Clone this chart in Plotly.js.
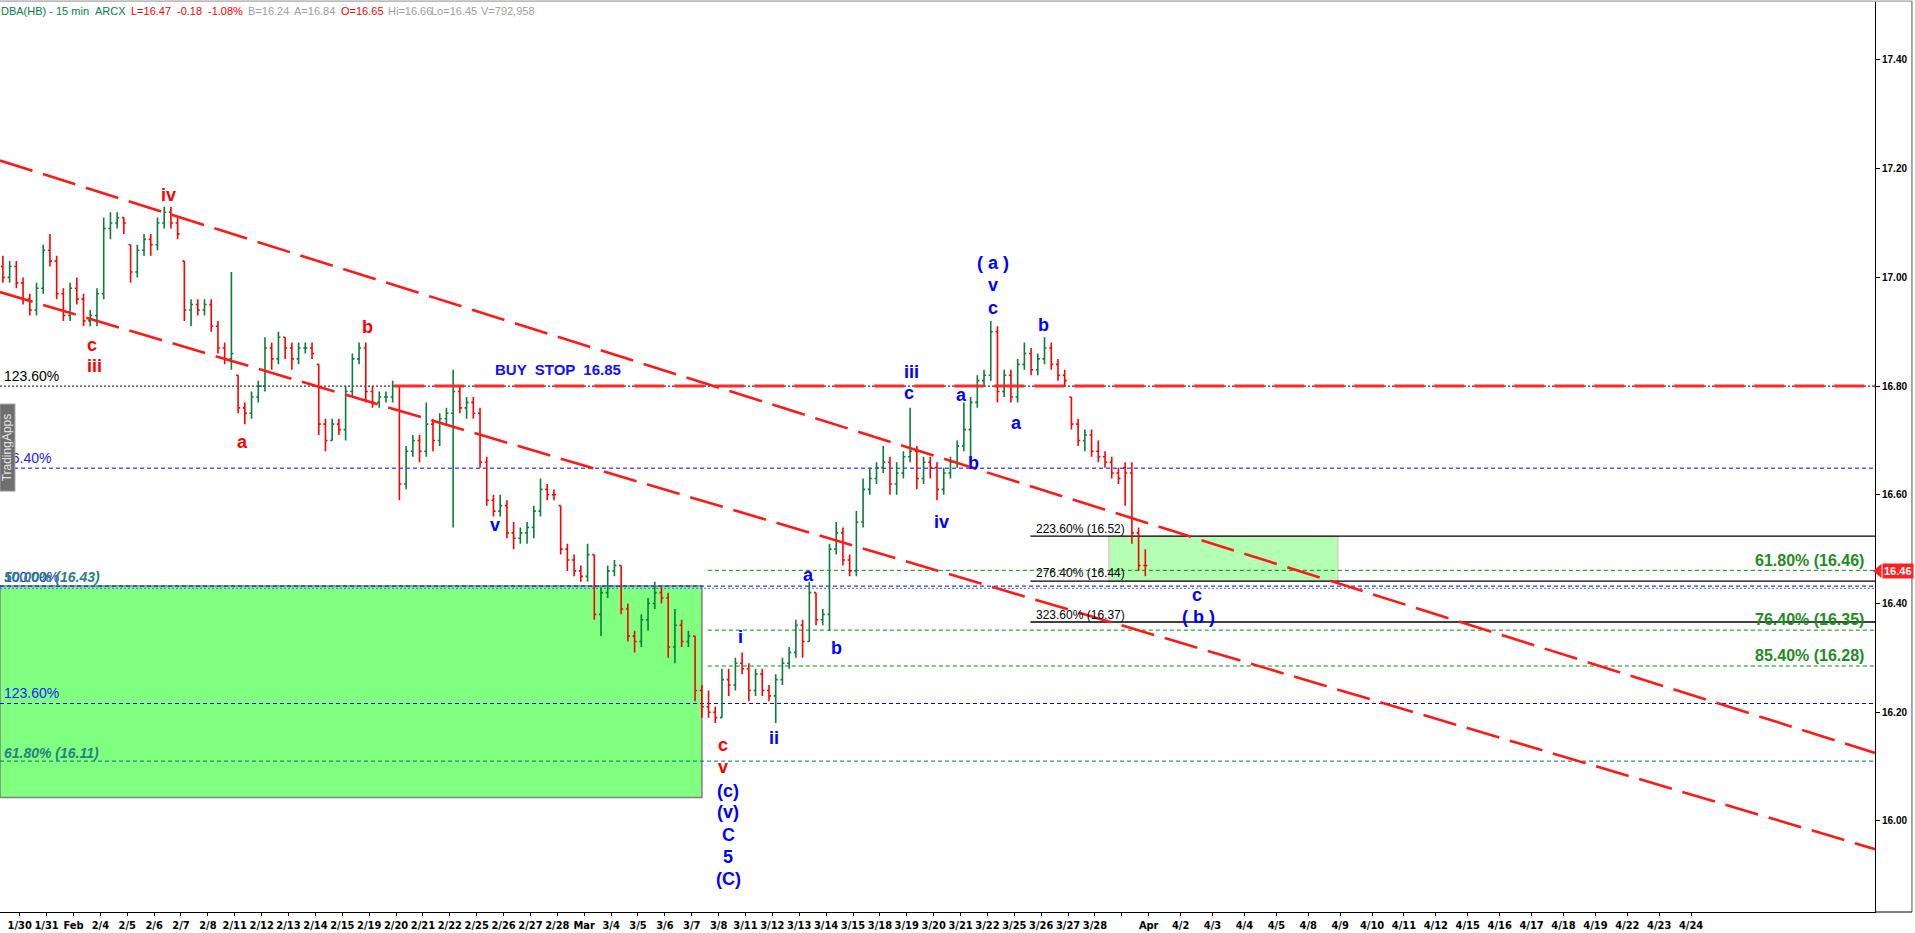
<!DOCTYPE html>
<html><head><meta charset="utf-8">
<script src="https://cdn.plot.ly/plotly-3.0.1.min.js"></script>
<style>html,body{margin:0;padding:0;background:#fff;overflow:hidden}#chart{width:1915px;height:933px}</style>
</head><body><div id="chart"></div>
<script>
// ---------- DATA ----------
const histDayLabels = ['1/30','1/31','Feb','2/4','2/5','2/6','2/7','2/8','2/11','2/12','2/13','2/14','2/15','2/19','2/20','2/21','2/22','2/25','2/26','2/27','2/28','Mar','3/4','3/5','3/6','3/7','3/8','3/11','3/12','3/13','3/14','3/15','3/18','3/19','3/20','3/21','3/22','3/25','3/26','3/27','3/28',''];
const futureDayLabels = ['Apr','4/2','4/3','4/4','4/5','4/8','4/9','4/10','4/11','4/12','4/15','4/16','4/17','4/18','4/19','4/22','4/23','4/24'];

// 15-min bars summarised in quarter-day bars (O,H,L,C), first 3 from 1/29 tail
const opens = [
17.02,17.00,17.02,
16.99,16.96,16.94,16.98, 17.05,17.03,16.97,16.93, 16.98,16.96,16.92,16.93, 16.97,17.09,17.10,17.11,
17.06,17.01,17.05,17.07, 17.06,17.10,17.12,17.10, 17.03,16.94,16.95,16.94, 16.95,16.91,16.87,16.85,
16.82,16.76,16.75,16.78, 16.80,16.87,16.85,16.89, 16.87,16.85,16.87,16.87, 16.84,16.73,16.70,16.73,
16.72,16.79,16.85,16.87, 16.79,16.77,16.78,16.78, 16.80,16.62,16.68,16.70, 16.68,16.73,16.70,16.74,
16.75,16.79,16.76,16.77, 16.75,16.66,16.59,16.57, 16.58,16.53,16.52,16.53, 16.54,16.57,16.61,16.60,
16.58,16.50,16.48,16.46, 16.45,16.49,16.38,16.42, 16.46,16.47,16.39,16.34, 16.33,16.37,16.40,16.42,
16.41,16.32,16.36,16.33, 16.34,16.24,16.21,16.20, 16.19,16.26,16.25,16.29, 16.28,16.24,16.27,16.24,
16.23,16.26,16.29,16.31, 16.36,16.33,16.42,16.37, 16.38,16.50,16.53,16.48, 16.46,16.55,16.61,16.63,
16.65,16.66,16.62,16.64, 16.67,16.68,16.63,16.66, 16.65,16.61,16.64,16.66, 16.69,16.72,16.77,16.81,
16.82,16.90,16.79,16.82, 16.78,16.84,16.86,16.83, 16.85,16.87,16.84,16.82, 16.78,16.73,16.70,16.71,
16.68,16.67,16.66,16.64, 16.65,16.64,16.53,16.47];
const highs = [
17.04,17.03,17.03,
17.00,16.97,16.99,17.06, 17.08,17.04,16.98,16.99, 17.00,16.97,16.94,16.98, 17.11,17.12,17.12,17.11,
17.06,17.06,17.08,17.08, 17.11,17.13,17.13,17.11, 17.03,16.96,16.96,16.96, 16.96,16.92,16.88,17.01,
16.82,16.77,16.79,16.81, 16.89,16.88,16.90,16.89, 16.88,16.88,16.88,16.88, 16.84,16.74,16.74,16.74,
16.80,16.86,16.88,16.88, 16.80,16.79,16.79,16.81, 16.80,16.69,16.71,16.71, 16.77,16.74,16.75,16.76,
16.83,16.80,16.78,16.78, 16.76,16.67,16.60,16.60, 16.59,16.55,16.54,16.55, 16.58,16.63,16.62,16.61,
16.58,16.51,16.49,16.47, 16.51,16.49,16.43,16.47, 16.48,16.47,16.40,16.35, 16.38,16.41,16.44,16.43,
16.42,16.39,16.37,16.35, 16.34,16.25,16.24,16.21, 16.28,16.28,16.30,16.31, 16.29,16.28,16.28,16.25,
16.27,16.30,16.32,16.37, 16.37,16.44,16.42,16.39, 16.51,16.55,16.54,16.49, 16.57,16.63,16.65,16.66,
16.69,16.67,16.66,16.68, 16.76,16.69,16.67,16.67, 16.66,16.65,16.67,16.70, 16.77,16.78,16.82,16.83,
16.92,16.91,16.83,16.83, 16.85,16.88,16.87,16.86, 16.89,16.88,16.85,16.83, 16.78,16.74,16.72,16.72,
16.70,16.68,16.67,16.65, 16.66,16.66,16.54,16.50];
const lows = [
16.99,16.99,16.98,
16.95,16.93,16.93,16.97, 17.02,16.96,16.92,16.92, 16.95,16.91,16.91,16.91, 16.96,17.07,17.09,17.08,
16.99,17.00,17.04,17.04, 17.05,17.09,17.09,17.07, 16.92,16.91,16.93,16.93, 16.90,16.86,16.84,16.83,
16.75,16.73,16.74,16.77, 16.79,16.83,16.84,16.85, 16.83,16.84,16.86,16.85, 16.71,16.68,16.70,16.71,
16.70,16.78,16.84,16.77, 16.76,16.76,16.77,16.77, 16.59,16.61,16.67,16.66, 16.67,16.68,16.69,16.73,
16.54,16.75,16.74,16.74, 16.65,16.58,16.56,16.56, 16.52,16.50,16.51,16.51, 16.52,16.56,16.59,16.59,
16.49,16.46,16.45,16.44, 16.44,16.37,16.34,16.41, 16.45,16.38,16.33,16.31, 16.32,16.35,16.39,16.40,
16.30,16.29,16.32,16.32, 16.22,16.19,16.19,16.18, 16.19,16.23,16.24,16.27, 16.22,16.23,16.23,16.22,
16.18,16.25,16.28,16.30, 16.30,16.33,16.36,16.36, 16.35,16.49,16.47,16.45, 16.45,16.54,16.60,16.62,
16.64,16.60,16.60,16.63, 16.66,16.61,16.62,16.63, 16.59,16.60,16.63,16.65, 16.68,16.66,16.76,16.80,
16.81,16.77,16.78,16.77, 16.77,16.83,16.82,16.82, 16.84,16.83,16.81,16.80, 16.72,16.69,16.68,16.67,
16.66,16.65,16.63,16.62, 16.58,16.51,16.46,16.45];
const closes = [
17.00,17.02,16.99,
16.96,16.94,16.98,17.05, 17.03,16.97,16.93,16.98, 16.96,16.92,16.93,16.97, 17.09,17.10,17.11,17.10,
17.01,17.05,17.07,17.06, 17.10,17.12,17.10,17.08, 16.94,16.95,16.94,16.95, 16.91,16.87,16.85,16.86,
16.76,16.75,16.78,16.80, 16.87,16.85,16.89,16.87, 16.85,16.87,16.87,16.86, 16.73,16.70,16.73,16.72,
16.79,16.85,16.87,16.79, 16.77,16.78,16.78,16.80, 16.62,16.68,16.70,16.68, 16.73,16.70,16.74,16.75,
16.79,16.76,16.77,16.75, 16.66,16.59,16.57,16.58, 16.53,16.52,16.53,16.54, 16.57,16.61,16.60,16.60,
16.50,16.48,16.46,16.45, 16.49,16.38,16.42,16.46, 16.47,16.39,16.34,16.33, 16.37,16.40,16.42,16.41,
16.32,16.36,16.33,16.34, 16.24,16.21,16.20,16.19, 16.26,16.25,16.29,16.28, 16.24,16.27,16.24,16.23,
16.26,16.29,16.31,16.36, 16.33,16.42,16.37,16.38, 16.50,16.53,16.48,16.46, 16.55,16.61,16.63,16.65,
16.66,16.62,16.64,16.67, 16.68,16.63,16.66,16.65, 16.61,16.64,16.66,16.69, 16.72,16.77,16.81,16.82,
16.90,16.79,16.82,16.78, 16.84,16.86,16.83,16.85, 16.87,16.84,16.82,16.81, 16.73,16.70,16.71,16.68,
16.67,16.66,16.64,16.63, 16.64,16.53,16.47,16.47];

// trend channel anchors (day units, price)
const channelUpperX = [-0.733, 69.02], channelUpperY = [17.215, 16.125];
const channelLowerX = [-0.733, 69.02], channelLowerY = [16.973, 15.948];
const buyStopPrice = 16.80, buyStopStartDay = 13.93;

// retracement / extension levels
const fullLevels = [16.80, 16.649, 16.432, 16.216, 16.110];
const greenLevels = [16.461, 16.351, 16.285];
const blackLevels = [16.524, 16.441, 16.366];
const leftZone = {x0:-0.733, x1:25.38, y0:16.043, y1:16.432};
const rightZone = {x0:40.52, x1:49.04, y0:16.441, y1:16.524};
const lastPrice = 16.46;

// ---------- BUILD ----------
const barX = opens.map((_, i) => -0.625 + 0.25 * i);
const tickVals = histDayLabels.map((_, i) => i).concat(futureDayLabels.map((_, k) => 42 + 1.187 * k));
const tickText = histDayLabels.concat(futureDayLabels);

const trace = {
  type: 'ohlc', x: barX, open: opens, high: highs, low: lows, close: closes,
  increasing: {line: {color: '#0b7d3b', width: 1.6}},
  decreasing: {line: {color: '#ff0000', width: 1.6}},
  tickwidth: 0.3, hoverinfo: 'skip', showlegend: false
};

const X0 = -0.733, X1 = 69.02;
const shapes = [];
// zones
shapes.push({type:'rect', xref:'x', yref:'y', x0:leftZone.x0, x1:leftZone.x1, y0:leftZone.y0, y1:leftZone.y1, fillcolor:'#80ff80', line:{color:'#808080', width:1.5}, layer:'below'});
shapes.push({type:'rect', xref:'x', yref:'y', x0:rightZone.x0, x1:rightZone.x1, y0:rightZone.y0, y1:rightZone.y1, fillcolor:'#b3ffb3', line:{color:'#f0b0b0', width:1}, layer:'below'});
// full-width levels
const fullStyles = [
  {color:'#000000', dash:'2px,2px'}, {color:'#0000ff', dash:'4px,3px'}, {color:'#0000ff', dash:'4px,3px'},
  {color:'#0000ff', dash:'4px,3px'}, {color:'#007a6a', dash:'4px,3px'}];
fullLevels.forEach((p, i) => shapes.push({type:'line', xref:'x', yref:'y', x0:X0, x1:X1, y0:p, y1:p, line:{color:fullStyles[i].color, width:1, dash:fullStyles[i].dash}, layer:'below'}));
shapes.push({type:'line', xref:'x', yref:'y', x0:X0, x1:X1, y0:16.428, y1:16.428, line:{color:'#4060ff', width:1, dash:'2px,2px'}, layer:'below'});
greenLevels.forEach(p => shapes.push({type:'line', xref:'x', yref:'y', x0:25.6, x1:X1, y0:p, y1:p, line:{color:'#0a8a0a', width:1, dash:'4px,3px'}, layer:'below'}));
blackLevels.forEach(p => shapes.push({type:'line', xref:'x', yref:'y', x0:37.6, x1:X1, y0:p, y1:p, line:{color:'#000000', width:1.3}, layer:'below'}));
// channel + buy stop
shapes.push({type:'line', xref:'x', yref:'y', x0:channelUpperX[0], x1:channelUpperX[1], y0:channelUpperY[0], y1:channelUpperY[1], line:{color:'#ff1a1a', width:2.6, dash:'34px,11px'}});
shapes.push({type:'line', xref:'x', yref:'y', x0:channelLowerX[0], x1:channelLowerX[1], y0:channelLowerY[0], y1:channelLowerY[1], line:{color:'#ff1a1a', width:2.6, dash:'34px,11px'}});
shapes.push({type:'line', xref:'x', yref:'y', x0:buyStopStartDay, x1:X1, y0:buyStopPrice, y1:buyStopPrice, line:{color:'#ff2a2a', width:3, dash:'30px,10px'}});
// frame
shapes.push({type:'line', xref:'paper', yref:'paper', x0:0, x1:1.0197, y0:1.001, y1:1.001, line:{color:'#8a8a8a', width:1}});
shapes.push({type:'line', xref:'paper', yref:'paper', x0:1.0197, x1:1.0197, y0:0, y1:1.001, line:{color:'#555', width:1}});
shapes.push({type:'line', xref:'paper', yref:'paper', x0:1, x1:1.0197, y0:0, y1:0, line:{color:'#000', width:1}});
// price tag pointer
shapes.push({type:'path', xref:'paper', yref:'y', path:'M 0.9989,16.46 L 1.0035,16.473 L 1.0035,16.447 Z', fillcolor:'#ff2020', line:{color:'#ff2020', width:0}});

const ann = [];
const F = 'Liberation Sans, Arial, sans-serif';
// header
[[0,'DBA(HB) - 15 min','#00804a'],[94,'ARCX','#00804a'],[130,'L=16.47','#ff0000'],[176,'-0.18','#ff0000'],[207,'-1.08%','#ff0000'],
 [247,'B=16.24','#a0a0a0'],[293,'A=16.84','#a0a0a0'],[340,'O=16.65','#ff0000'],[387,'Hi=16.66','#a0a0a0'],[430,'Lo=16.45','#a0a0a0'],[480,'V=792,958','#a0a0a0']]
 .forEach(h => ann.push({xref:'paper', yref:'paper', x:h[0]/1875, y:0.9901, xanchor:'left', yanchor:'middle', text:h[1], showarrow:false, borderpad:0,
   font:{family:F, size:11, color:h[2]}}));
// left labels
const leftLabels = [
  ['123.60%',16.819,'#000000','normal','normal'], ['76.40%',16.668,'#2020ff','normal','normal'],
  ['100.00%',16.449,'#2020ff','normal','normal'], ['50.00% (16.43)',16.449,'#2a8080','bold','italic'],
  ['123.60%',16.235,'#2020ff','normal','normal'], ['61.80% (16.11)',16.125,'#2a8080','bold','italic']];
leftLabels.forEach(l => ann.push({xref:'paper', yref:'y', x:3/1875, y:l[1], xanchor:'left', yanchor:'middle', text:l[0], showarrow:false, borderpad:0,
  font:{family:F, size:14, color:l[2], weight:l[3], style:l[4]}}));
// TradingApps tab
ann.push({xref:'paper', yref:'y', x:7.5/1875, y:16.686, xanchor:'center', yanchor:'middle', text:'TradingApps', textangle:-90, showarrow:false,
  bgcolor:'#6e6e6e', bordercolor:'#a0a0a0', borderwidth:1, borderpad:1, width:84, height:12, font:{family:F, size:12, color:'#e6e6e6'}});
// right green labels
[['61.80% (16.46)',16.480],['76.40% (16.35)',16.371],['85.40% (16.28)',16.305]].forEach(l => ann.push({xref:'paper', yref:'y', x:1865/1875, y:l[1],
  xanchor:'right', yanchor:'middle', text:l[0], showarrow:false, borderpad:0, font:{family:F, size:16, color:'#1e8c1e', weight:'bold'}}));
// black extension labels
[['223.60% (16.52)',16.537],['276.40% (16.44)',16.456],['323.60% (16.37)',16.378]].forEach(l => ann.push({xref:'x', yref:'y', x:37.77, y:l[1],
  xanchor:'left', yanchor:'middle', text:l[0], showarrow:false, borderpad:0, font:{family:F, size:12, color:'#000'}}));
// buy stop
ann.push({xref:'x', yref:'y', x:20.03, y:16.831, text:'BUY  STOP  16.85', showarrow:false, font:{family:F, size:15, color:'#1010ff', weight:'bold'}});
// wave labels
const redWaves = [['iv',5.52,17.152],['c',2.69,16.876],['iii',2.77,16.837],['a',8.27,16.697],['b',12.92,16.909],['c',26.17,16.140],['v',26.17,16.099]];
const blueWaves = [['v',17.68,16.544],['i',26.80,16.338],['ii',28.06,16.153],['a',29.33,16.452],['b',30.37,16.318],['iii',33.16,16.826],['c',33.08,16.787],
  ['iv',34.31,16.550],['a',35.02,16.784],['b',35.47,16.659],['( a )',36.21,17.027],['v',36.21,16.986],['c',36.21,16.944],['a',37.10,16.732],['b',38.07,16.912],
  ['c',43.80,16.416],['( b )',43.84,16.375],['(c)',26.35,16.055],['(v)',26.35,16.016],['C',26.35,15.974],['5',26.35,15.934],['(C)',26.35,15.893]];
redWaves.forEach(w => ann.push({xref:'x', yref:'y', x:w[1], y:w[2], text:w[0], showarrow:false, borderpad:0, font:{family:F, size:18, color:'#ff0000', weight:'bold'}}));
blueWaves.forEach(w => ann.push({xref:'x', yref:'y', x:w[1], y:w[2], text:w[0], showarrow:false, borderpad:0, font:{family:F, size:18, color:'#0000ff', weight:'bold'}}));
// price tag
ann.push({xref:'paper', yref:'y', x:1.0035, y:lastPrice, xanchor:'left', yanchor:'middle', text:lastPrice.toFixed(2), showarrow:false,
  bgcolor:'#ff2020', borderpad:1, font:{family:F, size:11, color:'#ffffff', weight:'bold'}});

const yTicks = [16.0, 16.2, 16.4, 16.6, 16.8, 17.0, 17.2, 17.4];
const layout = {
  width:1915, height:933, margin:{l:0, r:40, t:2, b:21}, paper_bgcolor:'#ffffff', plot_bgcolor:'#ffffff', showlegend:false,
  xaxis:{range:[X0, X1], rangeslider:{visible:false}, showgrid:false, zeroline:false, showline:true, linecolor:'#000', linewidth:1,
    tickmode:'array', tickvals:tickVals, ticktext:tickText, ticks:'outside', ticklen:3, tickcolor:'#000', tickangle:0,
    tickfont:{family:'Liberation Sans Narrow, DejaVu Sans Condensed, Arial Narrow, sans-serif', size:11, color:'#000', weight:'bold'}},
  yaxis:{side:'right', range:[15.8324, 17.5067], showgrid:false, zeroline:false, showline:true, linecolor:'#000', linewidth:1,
    tickmode:'array', tickvals:yTicks, ticktext:yTicks.map(v => v.toFixed(2)), ticks:'outside', ticklen:4, tickcolor:'#000',
    tickfont:{family:F, size:10, color:'#000', weight:'bold'}},
  shapes:shapes, annotations:ann
};
Plotly.newPlot('chart', [trace], layout, {displayModeBar:false, staticPlot:true});
</script></body></html>
